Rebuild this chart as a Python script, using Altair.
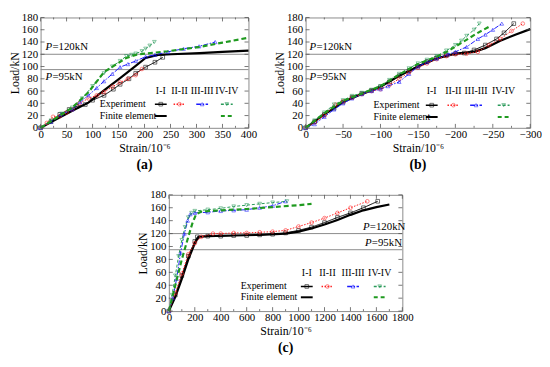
import altair as alt
import pandas as pd

FONT = "Liberation Serif"
SERIES = ["I-I", "II-II", "III-III", "IV-IV"]
COLORS = ["#000000", "#ff2020", "#1a1aff", "#2a9a5a"]
FE_GREEN = "#1f9a1f"
SHAPES = ["square", "circle", "triangle-up", "triangle-down"]
DASHES = [[1, 0], [1.5, 1.5], [5, 1.5, 1.5, 1.5], [3, 2]]

# ---------------- Panel (a) ----------------
a_exp_I_x = [0, 20, 37, 55, 70, 86, 100, 122, 140, 153, 170, 183, 202, 220, 235]
a_exp_I_y = [0, 10, 22, 30, 35, 38, 45, 53, 63, 71, 80, 89, 99, 107, 115]
a_exp_II_x = [0, 12, 24, 37, 50, 61, 75, 92, 108, 122, 138, 153, 168, 183, 195]
a_exp_II_y = [0, 8, 18, 19, 25, 30, 40, 48, 53, 58, 67, 74, 80, 86, 96]
a_exp_III_x = [0, 20, 40, 61, 76, 92, 108, 122, 138, 153, 168, 183, 202, 220, 245, 275, 305, 336]
a_exp_III_y = [0, 10, 22, 30, 42, 53, 65, 76, 88, 99, 104, 109, 116, 119, 124, 129, 133, 140]
a_exp_IV_x = [0, 20, 40, 61, 80, 100, 122, 138, 153, 165, 175, 183, 195, 202, 210, 219]
a_exp_IV_y = [0, 12, 23, 33, 48, 68, 89, 100, 109, 117, 119, 121, 125, 129, 134, 140]
a_fe_I_x = [0, 30, 61, 92, 122, 153, 183, 202, 226, 251, 306, 350, 400]
a_fe_I_y = [0, 14, 28, 41, 61, 81, 101, 114, 119, 120, 122, 124, 126]
a_fe_IV_x = [0, 30, 61, 92, 122, 150, 165, 183, 200, 245, 306, 350, 400]
a_fe_IV_y = [0, 16, 33, 58, 91, 106, 114, 119, 121, 125, 132, 139, 147]

# ---------------- Panel (b) ----------------
b_exp_I_x = [0, -12, -25, -38, -50, -62, -75, -88, -100, -112, -125, -138, -150, -162, -175, -188, -200, -212, -225, -240, -255, -265, -278]
b_exp_I_y = [0, 10, 22, 32, 42, 50, 56, 61, 67, 75, 85, 93, 101, 108, 114, 118, 121, 122, 127, 135, 145, 155, 170]
b_exp_II_x = [0, -12, -25, -40, -50, -62, -75, -88, -100, -112, -125, -138, -150, -162, -175, -188, -200, -215, -230, -245, -260, -275, -290]
b_exp_II_y = [0, 9, 20, 38, 43, 49, 55, 60, 63, 70, 80, 90, 98, 105, 112, 117, 120, 121, 124, 135, 145, 158, 170]
b_exp_III_x = [0, -12, -25, -38, -50, -62, -75, -88, -100, -110, -125, -138, -150, -162, -175, -190, -200, -215, -230, -240, -250, -262]
b_exp_III_y = [0, 6, 18, 30, 40, 48, 55, 60, 63, 68, 75, 88, 100, 107, 113, 120, 124, 132, 145, 152, 160, 170]
b_exp_IV_x = [0, -12, -25, -38, -50, -62, -75, -88, -100, -112, -125, -138, -150, -162, -175, -188, -200, -208, -215, -225, -232]
b_exp_IV_y = [0, 12, 25, 38, 45, 52, 57, 62, 68, 78, 88, 97, 105, 111, 117, 126, 135, 142, 150, 160, 170]
b_fe_I_x = [0, -25, -50, -75, -100, -125, -150, -175, -200, -225, -240, -260, -280, -300]
b_fe_I_y = [0, 22, 42, 55, 67, 85, 100, 113, 121, 124, 130, 142, 152, 161]
b_fe_IV_x = [0, -25, -50, -75, -100, -125, -150, -175, -190, -210, -230, -245]
b_fe_IV_y = [0, 24, 44, 56, 68, 87, 104, 116, 125, 140, 155, 165]

# ---------------- Panel (c) ----------------
c_exp_I_x = [0, 50, 100, 150, 200, 220, 300, 400, 500, 600, 700, 800, 900, 1000, 1100, 1200, 1300, 1400, 1500, 1610]
c_exp_I_y = [0, 25, 55, 85, 108, 115, 116, 116, 117, 117, 118, 119, 121, 125, 130, 137, 145, 152, 160, 170]
c_exp_II_x = [0, 50, 100, 150, 200, 250, 340, 400, 500, 600, 700, 800, 900, 1000, 1100, 1200, 1300, 1400, 1530]
c_exp_II_y = [0, 28, 58, 88, 105, 115, 120, 120, 121, 121, 122, 123, 125, 131, 137, 144, 152, 160, 170]
c_exp_III_x = [0, 30, 60, 90, 120, 145, 165, 200, 300, 400, 500, 600, 700, 800, 900]
c_exp_III_y = [0, 20, 50, 90, 120, 140, 150, 152, 153, 155, 156, 157, 160, 163, 170]
c_exp_IV_x = [0, 25, 50, 75, 100, 125, 150, 175, 200, 300, 400, 500, 600, 700, 800, 910]
c_exp_IV_y = [0, 25, 55, 85, 110, 130, 145, 152, 155, 157, 159, 162, 164, 166, 168, 170]
c_fe_I_x = [0, 50, 100, 150, 200, 230, 300, 500, 700, 900, 1000, 1100, 1200, 1300, 1400, 1500, 1600, 1700]
c_fe_I_y = [0, 22, 50, 80, 105, 115, 116, 117, 118, 120, 123, 128, 134, 141, 149, 156, 161, 165]
c_fe_IV_x = [0, 50, 100, 150, 180, 210, 250, 400, 600, 800, 1000, 1100]
c_fe_IV_y = [0, 40, 80, 115, 135, 150, 154, 156, 158, 161, 164, 166]

Y_TICKS = list(range(0, 181, 20))
P_LOADS = [120, 95]


def long_df(pairs):
    rows = []
    for name, xs, ys in pairs:
        for i, (x, y) in enumerate(zip(xs, ys)):
            rows.append({"series": name, "x": x, "y": y, "order": i})
    return pd.DataFrame(rows)


def one():
    return alt.Chart(pd.DataFrame({"k": [0]}))


def panel(exp_pairs, fe_pairs, xdom, xticks, xminor, reverse, w, h,
          leg, plab, label):
    xs = alt.Scale(domain=xdom, nice=False, reverse=reverse)
    ys = alt.Scale(domain=[0, 180], nice=False)

    def X():
        return alt.X("x:Q", scale=xs, axis=alt.Axis(
            values=xticks, grid=False, ticks=False, domain=False, format="d",
            labelOverlap=False, labelFlush=False, title="Strain/10⁻⁶",
            labelPadding=1, titlePadding=3))

    def Y():
        return alt.Y("y:Q", scale=ys, axis=alt.Axis(
            values=Y_TICKS, grid=False, ticks=False, domain=False, format="d",
            labelOverlap=False, labelFlush=False, title="Load/kN",
            labelPadding=3, titlePadding=0))

    exp = long_df(exp_pairs)
    col = alt.Color("series:N", scale=alt.Scale(domain=SERIES, range=COLORS), legend=None)
    dash = alt.StrokeDash("series:N", scale=alt.Scale(domain=SERIES, range=DASHES), legend=None)
    shp = alt.Shape("series:N", scale=alt.Scale(domain=SERIES, range=SHAPES), legend=None)

    layers = []
    pl = pd.DataFrame({"y": P_LOADS})
    layers.append(alt.Chart(pl).mark_rule(color="#8a8a8a", strokeWidth=1).encode(y=Y()))

    fe = long_df(fe_pairs)
    layers.append(alt.Chart(fe[fe.series == "I-I"]).mark_line(color="black", strokeWidth=2.2).encode(
        x=X(), y=Y(), order="order:Q"))
    exp_line = alt.Chart(exp).mark_line(strokeWidth=1).encode(
        x=X(), y=Y(), color=col, strokeDash=dash, order="order:Q", detail="series:N")
    exp_pts = alt.Chart(exp).mark_point(filled=False, size=14, strokeWidth=0.8).encode(
        x=X(), y=Y(), color=col, shape=shp)
    layers += [exp_line, exp_pts]
    layers.append(alt.Chart(fe[fe.series == "IV-IV"]).mark_line(
        color=FE_GREEN, strokeWidth=2.2, strokeDash=[5, 3]).encode(x=X(), y=Y(), order="order:Q"))

    # inward ticks on all four sides
    tx = pd.DataFrame({"x": xticks})
    tmx = pd.DataFrame({"x": xminor})
    ty = pd.DataFrame({"y": Y_TICKS})
    tc = "#555555"
    for d, ln in ((tx, 4), (tmx, 2)):
        layers.append(alt.Chart(d).mark_rule(color=tc, strokeWidth=0.8).encode(
            x=X(), y=alt.value(h), y2=alt.value(h - ln)))
        layers.append(alt.Chart(d).mark_rule(color=tc, strokeWidth=0.8).encode(
            x=X(), y=alt.value(0), y2=alt.value(ln)))
    layers.append(alt.Chart(ty).mark_rule(color=tc, strokeWidth=0.8).encode(
        y=Y(), x=alt.value(0), x2=alt.value(4)))
    layers.append(alt.Chart(ty).mark_rule(color=tc, strokeWidth=0.8).encode(
        y=Y(), x=alt.value(w), x2=alt.value(w - 4)))

    # P labels
    for val, px, dy in plab:
        d1 = pd.DataFrame({"y": [val]})
        layers.append(alt.Chart(d1).mark_text(text="P", font=FONT, fontSize=11, fontStyle="italic",
                                              align="left", baseline="middle", dy=dy).encode(
            x=alt.value(px), y=Y()))
        layers.append(alt.Chart(d1).mark_text(text=f"={val}kN", font=FONT, fontSize=11,
                                              align="left", baseline="middle", dy=dy).encode(
            x=alt.value(px + 7), y=Y()))

    # custom legend
    cols, hy, ey, fy, tx0 = leg
    for i, s in enumerate(SERIES):
        layers.append(one().mark_text(text=s, font=FONT, fontSize=10, align="center").encode(
            x=alt.value(cols[i]), y=alt.value(hy)))
        layers.append(one().mark_rule(color=COLORS[i], strokeWidth=1.6,
                                      strokeDash=DASHES[i] if i else [1, 0]).encode(
            x=alt.value(cols[i] - 6), x2=alt.value(cols[i] + 6), y=alt.value(ey)))
        layers.append(one().mark_point(shape=SHAPES[i], filled=False, size=14, strokeWidth=0.8,
                                       color=COLORS[i]).encode(
            x=alt.value(cols[i]), y=alt.value(ey)))
    layers.append(one().mark_rule(color="black", strokeWidth=2).encode(
        x=alt.value(cols[0] - 6), x2=alt.value(cols[0] + 6), y=alt.value(fy)))
    layers.append(one().mark_rule(color=FE_GREEN, strokeWidth=2, strokeDash=[4, 3]).encode(
        x=alt.value(cols[3] - 6), x2=alt.value(cols[3] + 6), y=alt.value(fy)))
    layers.append(one().mark_text(text="Experiment", font=FONT, fontSize=10, align="left").encode(
        x=alt.value(tx0), y=alt.value(ey)))
    layers.append(one().mark_text(text="Finite element", font=FONT, fontSize=10, align="left").encode(
        x=alt.value(tx0), y=alt.value(fy)))

    return alt.layer(*layers).properties(
        width=w, height=h,
        title=alt.TitleParams(label, orient="bottom", font=FONT, fontSize=14,
                              fontWeight="bold", offset=5))


A = panel(
    [("I-I", a_exp_I_x, a_exp_I_y), ("II-II", a_exp_II_x, a_exp_II_y),
     ("III-III", a_exp_III_x, a_exp_III_y), ("IV-IV", a_exp_IV_x, a_exp_IV_y)],
    [("I-I", a_fe_I_x, a_fe_I_y), ("IV-IV", a_fe_IV_x, a_fe_IV_y)],
    [0, 400], list(range(0, 401, 50)), list(range(25, 400, 50)), False, 211, 112,
    ([122, 141, 164, 189], 75, 88, 100, 60),
    [(120, 5, -7), (95, 5, 8)], "(a)")

B = panel(
    [("I-I", b_exp_I_x, b_exp_I_y), ("II-II", b_exp_II_x, b_exp_II_y),
     ("III-III", b_exp_III_x, b_exp_III_y), ("IV-IV", b_exp_IV_x, b_exp_IV_y)],
    [("I-I", b_fe_I_x, b_fe_I_y), ("IV-IV", b_fe_IV_x, b_fe_IV_y)],
    [-300, 0], list(range(0, -301, -50)), list(range(-25, -300, -50)), True, 228, 112,
    ([128, 150, 173, 201], 75, 89, 101, 69),
    [(120, 4, -7), (95, 4, 8)], "(b)")

C = panel(
    [("I-I", c_exp_I_x, c_exp_I_y), ("II-II", c_exp_II_x, c_exp_II_y),
     ("III-III", c_exp_III_x, c_exp_III_y), ("IV-IV", c_exp_IV_x, c_exp_IV_y)],
    [("I-I", c_fe_I_x, c_fe_I_y), ("IV-IV", c_fe_IV_x, c_fe_IV_y)],
    [0, 1800], list(range(0, 1801, 200)), list(range(100, 1800, 200)), False, 237, 118,
    ([140, 161, 187, 214], 79, 93, 104, 73),
    [(120, 197, -7), (95, 199, -7)], "(c)")

chart = alt.vconcat(
    alt.hconcat(A, B, spacing=16),
    C, spacing=15, center=True
).configure(font=FONT).configure_view(stroke="#8a8a8a", strokeWidth=1).configure_axis(
    labelFont=FONT, titleFont=FONT, labelFontSize=11, titleFontSize=12,
    labelColor="black", titleColor="black", titleFontWeight="normal"
).properties(padding=0)

chart.save("out.html", embed_options={"renderer": "svg", "actions": False})
